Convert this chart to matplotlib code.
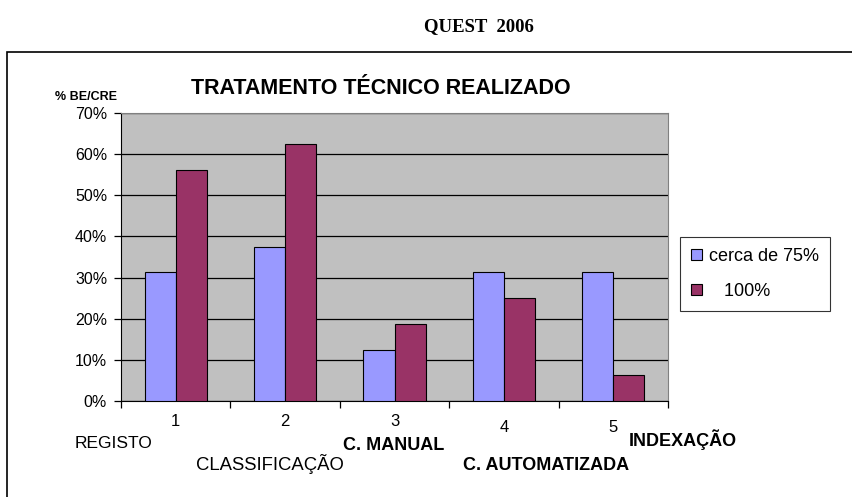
import matplotlib
matplotlib.use('Agg')
import matplotlib.pyplot as plt
import matplotlib.transforms as mtransforms
from matplotlib.patches import Rectangle
import numpy as np

categorias = [1, 2, 3, 4, 5]
cerca75 = [0.3125, 0.375, 0.125, 0.3125, 0.3125]
cem = [0.5625, 0.625, 0.1875, 0.25, 0.0625]
nomes = ['REGISTO', 'CLASSIFICAÇÃO', 'C. MANUAL', 'C. AUTOMATIZADA', 'INDEXAÇÃO']
yticks = [0, 0.1, 0.2, 0.3, 0.4, 0.5, 0.6, 0.7]

arial = ['Liberation Sans', 'DejaVu Sans']

fig = plt.figure(figsize=(8.52, 4.97), dpi=100)
fig.patch.set_facecolor('white')

# moldura do grafico
fig.patches.append(Rectangle((7/852, -0.2), 2.0, 1.2 - 52/497, transform=fig.transFigure,
                             fill=False, edgecolor='black', linewidth=1.2))

fig.text(479/852, 1 - 27/497, 'QUEST  2006', ha='center', va='center',
         family=['Liberation Serif', 'DejaVu Serif'], weight='bold', fontsize=13.5)

ax = fig.add_axes([121/852, 1 - 401/497, 547/852, 288/497])
ax.set_facecolor('#C0C0C0')

x = np.array(categorias)
w = 0.285
ax.bar(x - w/2, cerca75, w, color='#9999FF', edgecolor='black', linewidth=0.8,
       label='cerca de 75%', zorder=3)
ax.bar(x + w/2, cem, w, color='#993366', edgecolor='black', linewidth=0.8,
       label='   100%', zorder=3)

ax.set_xlim(0.5, 5.5)
ax.set_ylim(0, 0.7)
ax.set_yticks(yticks)
ax.set_yticklabels(['%d%%' % round(v*100) for v in yticks], family=arial, fontsize=11.5)
ax.yaxis.grid(True, color='black', linewidth=0.9, zorder=1)
ax.set_axisbelow(True)
ax.set_xticks([0.5, 1.5, 2.5, 3.5, 4.5, 5.5])
ax.set_xticklabels([])
ax.tick_params(axis='both', direction='out', length=5, width=0.9, colors='black')
ax.tick_params(axis='y', pad=5)
for s in ['top', 'right']:
    ax.spines[s].set_color('#808080')
for s in ['left', 'bottom']:
    ax.spines[s].set_color('black')

trans = mtransforms.blended_transform_factory(ax.transData, fig.transFigure)
num_y = [421, 421, 421, 427, 427]
for c, yy in zip(categorias, num_y):
    ax.text(c, 1 - yy/497, str(c), transform=trans, ha='center', va='center',
            family=arial, fontsize=12)

# posicoes dos nomes (px)
nome_pos = [(114, 444, 'normal', 12.5), (270, 464, 'normal', 13.3), (394, 445, 'bold', 13),
            (546, 465, 'bold', 13), (683, 440, 'bold', 13)]
for nome, (px, py, wt, fs) in zip(nomes, nome_pos):
    fig.text(px/852, 1 - py/497, nome, ha='center', va='center',
             family=arial, fontsize=fs, weight=wt)

fig.text(381/852, 1 - 88/497, 'TRATAMENTO TÉCNICO REALIZADO', ha='center', va='center',
         family=arial, weight='bold', fontsize=15.5)
fig.text(86/852, 1 - 97/497, '% BE/CRE', ha='center', va='center',
         family=arial, weight='bold', fontsize=9)

leg = fig.legend(loc='upper left', bbox_to_anchor=(680/852, 1 - 237/497),
                 frameon=True, fancybox=False, edgecolor='black',
                 handlelength=0.6, handleheight=0.6, labelspacing=1.0,
                 borderpad=0.6, handletextpad=0.4, borderaxespad=0,
                 prop={'family': arial, 'size': 13})
leg.get_frame().set_linewidth(0.8)

fig.savefig('out.png', dpi=100)
